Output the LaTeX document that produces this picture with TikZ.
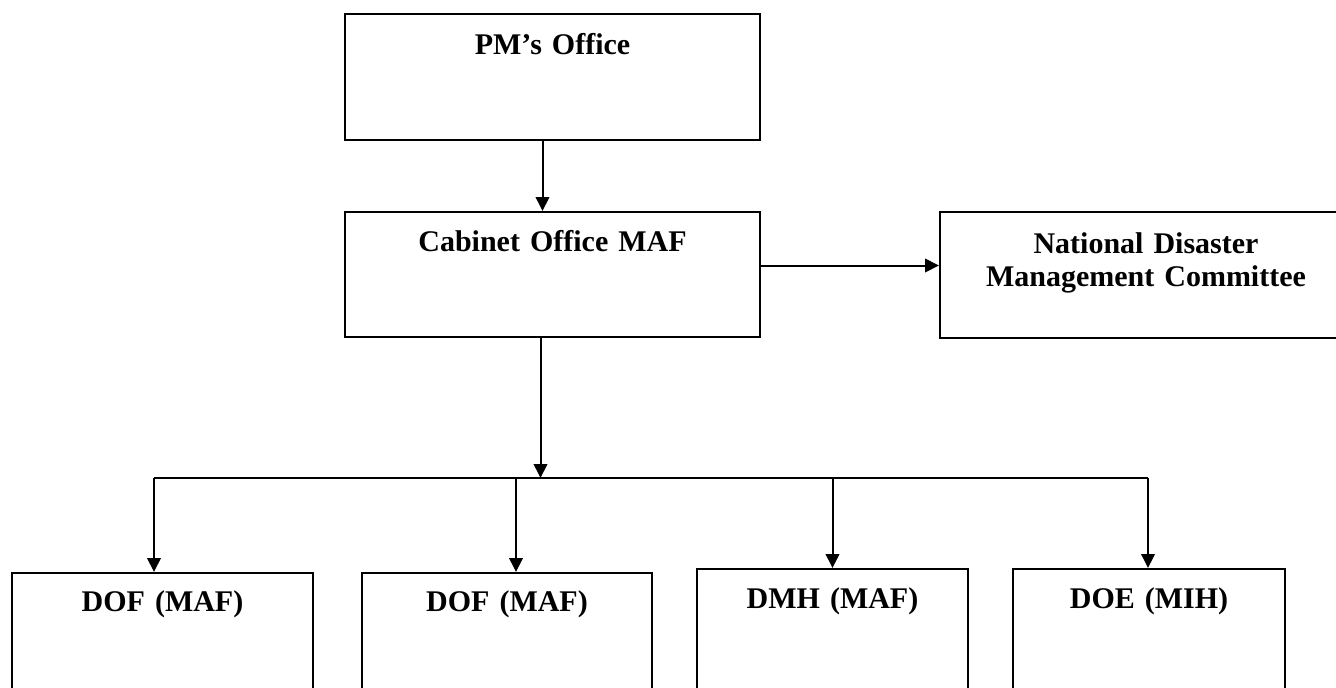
\documentclass[tikz,border=0pt]{standalone}
\usepackage{fontspec}
\setmainfont{Liberation Serif}
\usetikzlibrary{arrows.meta}

\begin{document}
\begin{tikzpicture}[x=1pt,y=-1pt,>={Triangle[length=14pt,width=13.5pt]},line width=2pt,
  font=\bfseries\fontsize{30}{33}\selectfont,
  unit/.style={draw,anchor=north,inner sep=0pt,align=center,text height=40pt,text depth=86pt}]
  \useasboundingbox (0,0) rectangle (1336,688);
  % upper levels
  \node[unit,text width=415pt] (pm) at (552.5,13) {PM’s Office};
  \node[unit,text width=415pt,text height=39pt] (cab) at (552.5,211) {Cabinet Office MAF};
  \node[unit,text width=412pt,text height=41pt,text depth=85pt] (ndmc) at (1146,211)
    {National Disaster\\Management Committee};
  % departments
  \node[unit,text width=301pt,text height=38pt,text depth=160pt] (dof1) at (162.5,572) {DOF (MAF)};
  \node[unit,text width=290pt,text height=38pt,text depth=160pt] (dof2) at (507,572) {DOF (MAF)};
  \node[unit,text width=271pt,text height=39pt,text depth=160pt] (dmh) at (832.5,568) {DMH (MAF)};
  \node[unit,text width=272pt,text height=39pt,text depth=160pt] (doe) at (1149,568) {DOE (MIH)};
  % connectors
  \draw[->] ([xshift=-10pt]pm.south) -- ([xshift=-10pt]cab.north);
  \draw[->] ([yshift=9pt]cab.east) -- ([yshift=9pt]cab.east -| ndmc.west);
  \coordinate (bus) at (540.5,478);
  \draw[->] (cab.south -| bus) -- (bus);
  \draw ([xshift=-8.5pt]dof1.north |- bus) -- ([xshift=-1pt]doe.north |- bus);
  \foreach \b/\dx in {dof1/-8.5,dof2/9,dmh/0,doe/-1}
    \draw[->] ([xshift=\dx pt]\b.north |- bus) -- ([xshift=\dx pt]\b.north);
\end{tikzpicture}
\end{document}
